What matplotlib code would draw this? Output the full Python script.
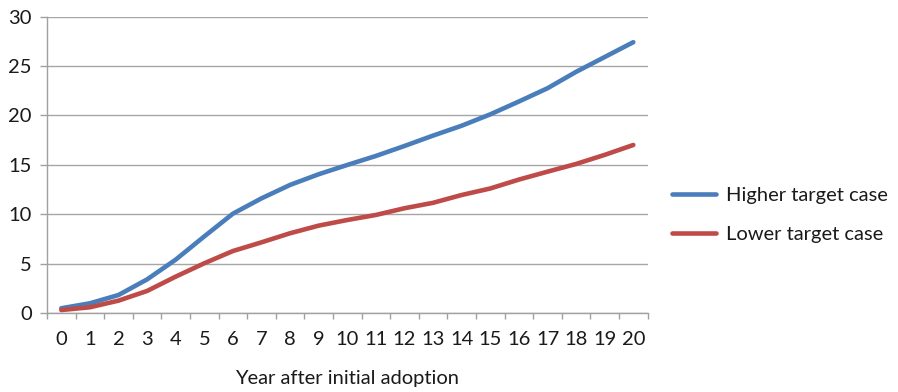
import matplotlib
matplotlib.use("Agg")
import matplotlib.pyplot as plt
from matplotlib.ticker import FixedLocator, MultipleLocator

years = list(range(0, 21))
higher = [0.48, 0.98, 1.82, 3.4, 5.4, 7.75, 10.05, 11.6, 12.96, 14.04, 14.98,
          15.89, 16.9, 17.95, 18.95, 20.1, 21.4, 22.74, 24.4, 25.9, 27.4]
lower = [0.3, 0.58, 1.25, 2.23, 3.68, 5.03, 6.27, 7.15, 8.07, 8.84, 9.41,
         9.92, 10.6, 11.15, 11.94, 12.6, 13.5, 14.3, 15.08, 16.0, 17.0]
labels = ["Higher target case", "Lower target case"]
xlabel = "Year after initial adoption"

plt.rcParams['font.family'] = ['Lato', 'DejaVu Sans']
FS = 14.5

fig = plt.figure(figsize=(8.98, 3.92), dpi=100)
ax = fig.add_axes([47/898, 79/392, 600.6/898, 296.5/392])

ax.plot(years, higher, color="#4A7EBB", lw=3.3, solid_capstyle="round", label=labels[0])
ax.plot(years, lower, color="#BE4B48", lw=3.3, solid_capstyle="round", label=labels[1])

ax.set_xlim(-0.5, 20.5)
ax.set_ylim(0, 30)
ax.yaxis.set_major_locator(MultipleLocator(5))
ax.set_xticks(years)
ax.set_xticklabels([str(y) for y in years])
ax.xaxis.set_minor_locator(FixedLocator([y + 0.5 for y in range(-1, 21)]))
ax.tick_params(axis="x", which="major", length=0, pad=13, labelsize=FS, colors="#1a1a1a")
ax.tick_params(axis="x", which="minor", length=4, width=1, color="#a0a0a0")
ax.tick_params(axis="y", which="major", length=5, width=1, color="#a0a0a0", pad=6,
               labelsize=FS, labelcolor="#1a1a1a")

ax.grid(axis="y", color="#a6a6a6", lw=1)
ax.set_axisbelow(True)
for s in ["top", "right"]:
    ax.spines[s].set_visible(False)
for s in ["left", "bottom"]:
    ax.spines[s].set_color("#a0a0a0")
    ax.spines[s].set_linewidth(1)

ax.set_xlabel(xlabel, fontsize=FS, color="#1a1a1a", labelpad=16)

leg = fig.legend(loc="upper left", bbox_to_anchor=(654/898, 1 - 169/392), frameon=False,
                 fontsize=FS, handlelength=2.2, handletextpad=0.5, labelspacing=1.1,
                 labelcolor="#1a1a1a")

fig.savefig("out.png", dpi=100)
